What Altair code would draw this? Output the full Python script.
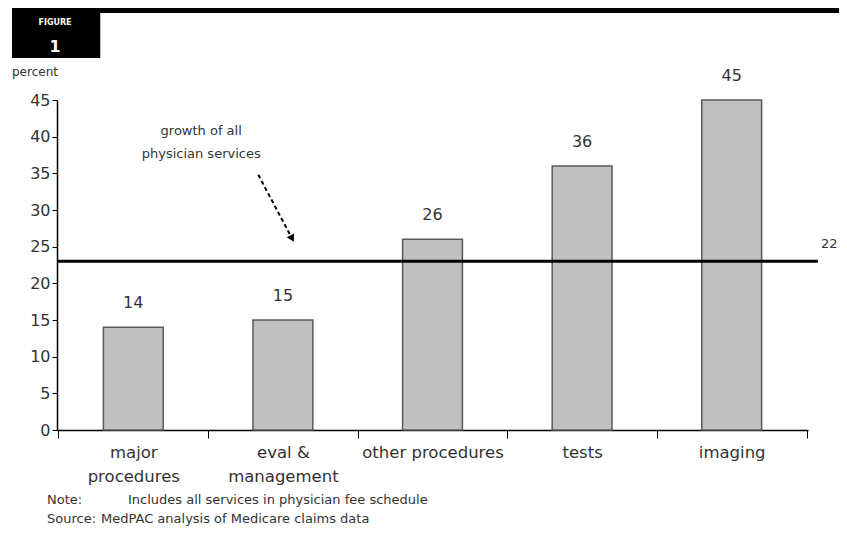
import altair as alt
import pandas as pd

# ---- data ----
categories = ["major|procedures", "eval &|management", "other procedures", "tests", "imaging"]
growth_pct = [14, 15, 26, 36, 45]
growth_text = ["14", "15", "26", "36", "45"]
y_ticks = [0, 5, 10, 15, 20, 25, 30, 35, 40, 45]
all_services_value = 23
all_services_text = "22"
annotation_lines = ["growth of all", "physician services"]
note_label = ["Note:", "Source:"]
note_text = ["Includes all services in physician fee schedule",
             "MedPAC analysis of Medicare claims data"]

FONT = "DejaVu Sans"
TXT = "#333333"

bars_df = pd.DataFrame({"category": categories, "growth": growth_pct, "label": growth_text})

yscale = alt.Scale(domain=[0, 45], nice=False, zero=True)
xq = alt.Scale(domain=[0, 5], nice=False, zero=False)
yaxis = alt.Axis(title=None, values=y_ticks, labelFont=FONT, labelFontSize=16,
                 labelColor=TXT, tickSize=5, tickColor="#000", labelPadding=2,
                 domainColor="#000", domainWidth=1.5, grid=False)


def Y(field):
    return alt.Y(field, scale=yscale, axis=yaxis, title=None)


base = alt.Chart(bars_df)

xcat = alt.X("category:N", sort=categories,
             scale=alt.Scale(paddingInner=0, paddingOuter=0.01),
             axis=alt.Axis(title=None, labelAngle=0, labelExpr="split(datum.label, '|')",
                           labelFont=FONT, labelFontSize=16.5, labelColor=TXT,
                           labelLineHeight=24, labelPadding=6, labelBaseline="top",
                           tickBand="extent", tickSize=8, tickColor="#000",
                           domainColor="#000", domainWidth=1.5, grid=False))

bars = base.mark_bar(color="#c0c0c0", stroke="#5a5a5a", strokeWidth=1.5,
                     width={"band": 0.4}).encode(x=xcat, y=Y("growth:Q"))

bar_labels = base.mark_text(dy=-24, font=FONT, fontSize=16, color=TXT).encode(
    x=alt.X("category:N", sort=categories),
    y=Y("growth:Q"),
    text="label:N",
)

main = alt.layer(bars, bar_labels)

line_df = pd.DataFrame({"x0": [0.0], "x1": [5.066], "y": [all_services_value],
                        "xt": [5.087], "yt": [all_services_value + 2.3],
                        "t": [all_services_text]})
growth_rule = alt.Chart(line_df).mark_rule(color="#000", strokeWidth=3).encode(
    x=alt.X("x0:Q", scale=xq, axis=None), x2="x1:Q",
    y=Y("y:Q"),
)
growth_lbl = alt.Chart(line_df).mark_text(align="left", baseline="middle", font=FONT,
                                          fontSize=13, color=TXT).encode(
    x=alt.X("xt:Q", scale=xq, axis=None),
    y=Y("yt:Q"),
    text="t:N",
)

ann_df = pd.DataFrame({"t": annotation_lines, "x": [0.96, 0.96], "y": [40.8, 37.6]})
ann_text = alt.Chart(ann_df).mark_text(font=FONT, fontSize=13, color=TXT).encode(
    x=alt.X("x:Q", scale=xq, axis=None),
    y=Y("y:Q"),
    text="t:N",
)

arrow_df = pd.DataFrame({"x0": [1.34], "x1": [1.55], "y0": [34.8], "y1": [26.7],
                         "hx": [1.565], "hy": [26.1]})
arrow_line = alt.Chart(arrow_df).mark_rule(color="#000", strokeWidth=2,
                                           strokeDash=[4, 3]).encode(
    x=alt.X("x0:Q", scale=xq, axis=None), x2="x1:Q",
    y=Y("y0:Q"), y2="y1:Q",
)
arrow_head = alt.Chart(arrow_df).mark_point(shape="triangle-up", filled=True, color="#000",
                                            size=70, angle=153, opacity=1).encode(
    x=alt.X("hx:Q", scale=xq, axis=None),
    y=Y("hy:Q"),
)

one = pd.DataFrame({"k": [0]})
hdr_box = alt.Chart(one).mark_rect(color="#000").encode(
    x=alt.value(-45), x2=alt.value(43), y=alt.value(-92), y2=alt.value(-42))
hdr_bar = alt.Chart(one).mark_rect(color="#000").encode(
    x=alt.value(-45), x2=alt.value(790), y=alt.value(-92), y2=alt.value(-87))
hdr_sep = alt.Chart(one).mark_rule(color="#bbbbbb", strokeWidth=1).encode(
    x=alt.value(43.5), y=alt.value(-87), y2=alt.value(-42))
hdr_t1 = alt.Chart(one).mark_text(text="FIGURE", font=FONT, fontSize=8, fontWeight="bold",
                                  color="#fff").encode(x=alt.value(-2), y=alt.value(-77))
hdr_t2 = alt.Chart(one).mark_text(text="1", font=FONT, fontSize=16, fontWeight="bold",
                                  color="#fff").encode(x=alt.value(-2), y=alt.value(-53))
pct = alt.Chart(one).mark_text(text="percent", font=FONT, fontSize=12, color=TXT,
                               align="left").encode(x=alt.value(-45), y=alt.value(-28))

note_lab = alt.Chart(one).mark_text(text="\n".join(note_label), font=FONT, fontSize=13,
                                    color=TXT, align="left", baseline="middle",
                                    lineBreak="\n", lineHeight=19).encode(
    x=alt.value(-10), y=alt.value(400))
note_txt1 = alt.Chart(one).mark_text(text=note_text[0], font=FONT, fontSize=13, color=TXT,
                                     align="left", baseline="middle").encode(
    x=alt.value(71), y=alt.value(400))
note_txt2 = alt.Chart(one).mark_text(text=note_text[1], font=FONT, fontSize=13, color=TXT,
                                     align="left", baseline="middle").encode(
    x=alt.value(44), y=alt.value(419))

chart = alt.layer(
    main, growth_rule, growth_lbl, ann_text, arrow_line, arrow_head,
    hdr_box, hdr_bar, hdr_sep, hdr_t1, hdr_t2, pct, note_lab, note_txt1, note_txt2
).resolve_scale(x="independent").properties(
    width=751, height=330,
    autosize=alt.AutoSizeParams(type="none"),
    padding={"left": 49, "top": 92, "right": 31, "bottom": 98},
).configure_view(strokeWidth=0)

chart.save("out.html", embed_options={"renderer": "svg", "actions": False})
